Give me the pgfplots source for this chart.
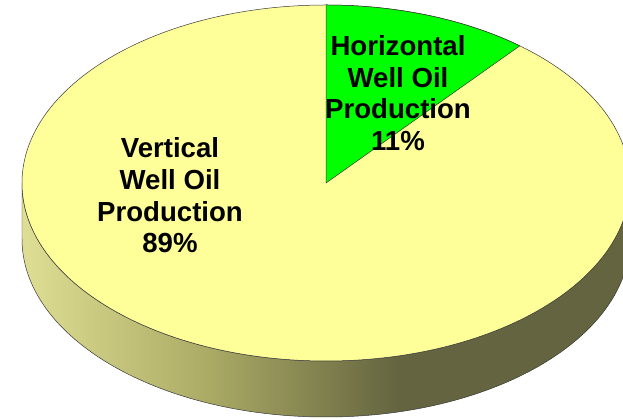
\documentclass[border=0pt]{standalone}
\usepackage{pgfplots}
\pgfplotsset{compat=1.18}
\usepackage{fontspec}
\setmainfont{Liberation Sans}
\definecolor{topY}{RGB}{255,255,153}
\definecolor{wedgeG}{RGB}{0,255,0}
\definecolor{sideL}{RGB}{222,222,148}
\definecolor{sideM}{RGB}{172,172,102}
\definecolor{sideD}{RGB}{100,100,64}
\definecolor{edge}{RGB}{55,55,55}
\pgfdeclarehorizontalshading{sideshade}{100bp}{color(0bp)=(sideL); color(25bp)=(sideL); color(40bp)=(sideM); color(56bp)=(sideD); color(100bp)=(sideD)}
\begin{document}
\begin{tikzpicture}
% pie data (percent)
\def\horiz{11}
\def\vertic{89}
\pgfmathsetmacro\ang{360*\horiz/(\horiz+\vertic)}
\pgfmathsetmacro\endang{90-\ang}
% geometry (in axis units = bp)
\def\cx{326}\def\cy{236}\def\ra{304}\def\rb{178}\def\dep{56}
\pgfmathsetmacro\xl{\cx-\ra}
\pgfmathsetmacro\xr{\cx+\ra}
\pgfmathsetmacro\yt{\cy+\rb}
\pgfmathsetmacro\yd{\cy-\dep}
\begin{axis}[width=623bp,height=419bp,scale only axis,
  xmin=0,xmax=623,ymin=0,ymax=419,hide axis,clip=true]
% side of the pie
\shade[shading=sideshade,draw=edge,line width=0.5pt]
  (axis cs:\xl,\cy) arc[start angle=180,end angle=360,x radius=\ra,y radius=\rb]
  -- (axis cs:\xr,\yd) arc[start angle=360,end angle=180,x radius=\ra,y radius=\rb]
  -- cycle;
% top face: vertical well slice
\filldraw[fill=topY,draw=edge,line width=0.5pt]
  (axis cs:\cx,\cy) ellipse[x radius=\ra,y radius=\rb];
% top face: horizontal well slice
\filldraw[fill=wedgeG,draw=edge,line width=0.5pt]
  (axis cs:\cx,\cy) -- (axis cs:\cx,\yt)
  arc[start angle=90,end angle=\endang,x radius=\ra,y radius=\rb] -- cycle;
% labels
\node[align=center,font=\bfseries\fontsize{27.7}{31.7}\selectfont,inner sep=0pt]
  at (axis cs:398,326) {Horizontal\\Well Oil\\Production\\\horiz\%};
\node[align=center,font=\bfseries\fontsize{27.7}{31.7}\selectfont,inner sep=0pt]
  at (axis cs:170,223.5) {Vertical\\Well Oil\\Production\\\vertic\%};
\end{axis}
\pgfresetboundingbox
\path (current axis.south west) rectangle (current axis.north east);
\end{tikzpicture}
\end{document}
